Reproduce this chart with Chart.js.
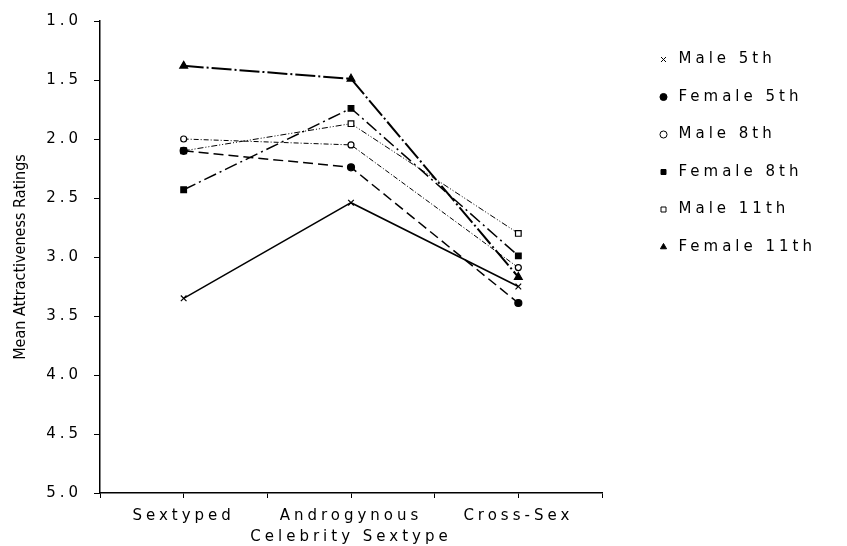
<!DOCTYPE html>
<html>
<head>
<meta charset="utf-8">
<script src="https://cdn.jsdelivr.net/npm/chart.js@4.4.1/dist/chart.umd.min.js"></script>
<style>
  html, body { margin: 0; padding: 0; background: #fff; }
  #wrap { width: 847px; height: 546px; }
</style>
</head>
<body>
<div id="wrap"><canvas id="sextypeChart" width="847" height="546"></canvas></div>
<script>
var categories = ['Sextyped', 'Androgynous', 'Cross-Sex'];
var yTicks = [1.0, 1.5, 2.0, 2.5, 3.0, 3.5, 4.0, 4.5, 5.0];
var yTitle = 'Mean Attractiveness Ratings';
var xTitle = 'Celebrity Sextype';

var male5th    = [3.35, 2.54, 3.25];
var female5th  = [2.10, 2.24, 3.39];
var male8th    = [2.00, 2.05, 3.09];
var female8th  = [2.43, 1.74, 2.99];
var male11th   = [2.10, 1.87, 2.80];
var female11th = [1.38, 1.49, 3.17];

var plotterFont = 'DejaVu Sans';
var spacing = '4px';

// categories sit on the odd steps of a 0..6 axis, so the tick marks fall between them too
function toPoints(values){
    var pts = [];
    for(var i = 0; i < values.length; i++){
        pts.push({x: 2 * i + 1, y: values[i]});
    }
    return pts;
}

function series(label, values, style, bg, radius, dash, width){
    return {
        label: label,
        data: toPoints(values),
        borderColor: '#000',
        backgroundColor: bg,
        borderWidth: width,
        borderDash: dash,
        pointStyle: style,
        pointRadius: radius,
        pointBorderWidth: 1.2,
        pointBorderColor: '#000',
        pointBackgroundColor: bg,
        tension: 0,
        fill: false
    };
}

var datasets = [
    series('Male 5th', male5th, 'crossRot', '#000', 4, [], 1.5),
    series('Female 5th', female5th, 'circle', '#000', 3.5, [10, 5], 1.5),
    series('Male 8th', male8th, 'circle', '#fff', 3, [5, 2, 1, 2], 1),
    series('Female 8th', female8th, 'rect', '#000', 4, [13, 4, 2, 4], 1.5),
    series('Male 11th', male11th, 'rect', '#fff', 4, [6, 2, 1, 2, 1, 2], 1),
    series('Female 11th', female11th, 'triangle', '#000', 4.5, [20, 3, 2, 3], 2)
];

// the old plotter lettering is widely spaced, the y title is not
var plotterText = {
    id: 'plotterText',
    beforeUpdate: function(chart){ chart.ctx.letterSpacing = spacing; },
    beforeLayout: function(chart){
        chart.ctx.letterSpacing = spacing;
        var legend = chart.legend;
        if(legend && !legend._wrapped){
            var fit = legend.fit;
            legend.fit = function(){
                fit.apply(this, arguments);
                this.width = 245;
            };
            legend._wrapped = true;
        }
    },
    afterLayout: function(chart){
        var legend = chart.legend;
        var pad = legend.options.labels.padding;
        legend.left = 656 - pad;
        legend.top = 52 - pad;
        var y = chart.scales.y;
        if(y && !y._wrapped){
            var drawTitle = y.drawTitle;
            y.drawTitle = function(){
                var ctx = this.ctx;
                ctx.save();
                ctx.letterSpacing = '0px';
                drawTitle.apply(this, arguments);
                ctx.restore();
            };
            y._wrapped = true;
        }
    },
    beforeDraw: function(chart){ chart.ctx.letterSpacing = spacing; }
};

var sextypeChart = new Chart(document.getElementById('sextypeChart').getContext('2d'), {
    type: 'line',
    data: { datasets: datasets },
    plugins: [plotterText],
    options: {
        responsive: false,
        animation: false,
        devicePixelRatio: 1,
        layout: { padding: { top: 13, left: 0, right: 0, bottom: 0 } },
        plugins: {
            tooltip: { enabled: false },
            legend: {
                position: 'right',
                align: 'start',
                labels: {
                    usePointStyle: true,
                    boxHeight: 5,
                    padding: 22.5,
                    color: '#000',
                    font: { family: plotterFont, size: 15 },
                    generateLabels: function(chart){
                        var items = Chart.defaults.plugins.legend.labels.generateLabels(chart);
                        items.forEach(function(it){
                            it.lineDash = [];
                            it.lineWidth = 1;
                        });
                        return items;
                    }
                }
            }
        },
        scales: {
            x: {
                type: 'linear',
                min: 0,
                max: 6,
                afterFit: function(scale){ scale.height = 53; },
                ticks: {
                    stepSize: 1,
                    autoSkip: false,
                    maxRotation: 0,
                    padding: 9,
                    color: '#000',
                    font: { family: plotterFont, size: 15 },
                    callback: function(value){
                        if(value % 2 === 1) return categories[(value - 1) / 2];
                        return '';
                    }
                },
                grid: { drawOnChartArea: false, tickLength: 5, color: '#000', lineWidth: 1 },
                border: { color: '#000', width: 1.5 },
                title: {
                    display: true,
                    text: xTitle,
                    color: '#000',
                    font: { family: plotterFont, size: 15 },
                    padding: { top: 0, bottom: 0 }
                }
            },
            y: {
                reverse: true,
                min: 1,
                max: 5,
                afterFit: function(scale){ scale.width = 100; },
                afterBuildTicks: function(scale){
                    scale.ticks = yTicks.map(function(v){ return {value: v}; });
                },
                ticks: {
                    padding: 12,
                    color: '#000',
                    font: { family: plotterFont, size: 15 },
                    callback: function(value){ return Number(value).toFixed(1); }
                },
                grid: { drawOnChartArea: false, tickLength: 6, color: '#000', lineWidth: 1 },
                border: { color: '#000', width: 1.5 },
                title: {
                    display: true,
                    text: yTitle,
                    color: '#000',
                    font: { family: "'DejaVu Sans Condensed', 'Liberation Sans', sans-serif", size: 16 },
                    padding: { top: 11, bottom: 0 }
                }
            }
        }
    }
});
</script>
</body>
</html>
